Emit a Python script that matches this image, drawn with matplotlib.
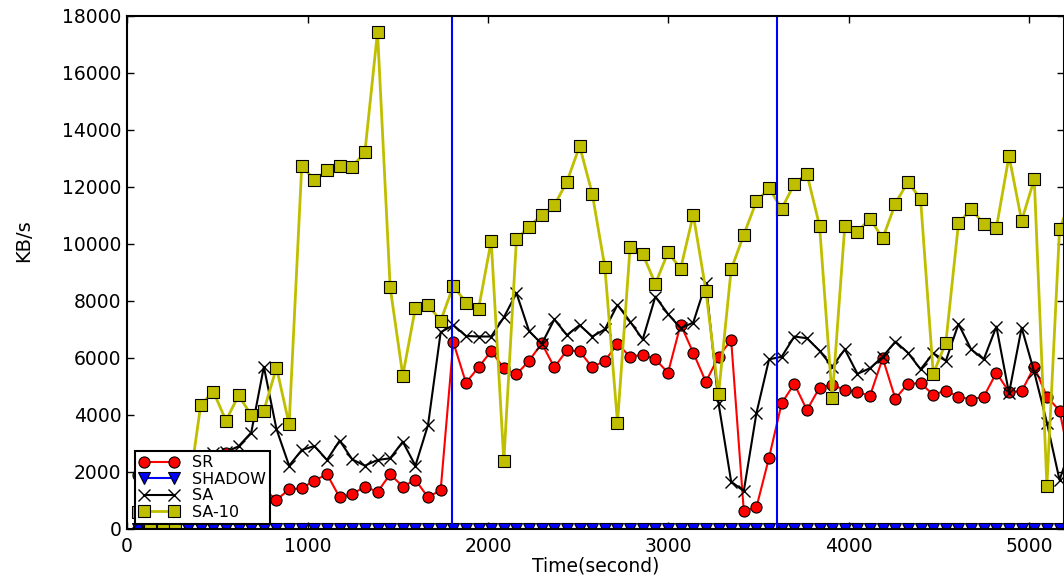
import matplotlib
matplotlib.use("Agg")
import matplotlib.pyplot as plt

# tiempos de muestreo (s)
tiempos = [58, 128, 198, 268, 338, 408, 478, 548, 618, 688, 758, 828, 898, 968, 1038,
           1108, 1178, 1248, 1318, 1388, 1458, 1528, 1598, 1668, 1738, 1808, 1878, 1948,
           2018, 2088, 2158, 2228, 2298, 2368, 2438, 2508, 2578, 2648, 2718, 2788, 2858,
           2928, 2998, 3068, 3138, 3208, 3278, 3348, 3418, 3488, 3558, 3628, 3698, 3768,
           3838, 3908, 3978, 4048, 4118, 4188, 4258, 4328, 4398, 4468, 4538, 4608, 4678,
           4748, 4818, 4888, 4958, 5028, 5098, 5168, 5238]

sr = [1900, 1800, 1500, 1600, 1700, 2000, 2300, 2650, 2400, 1900, 1400, 1020, 1390, 1430,
      1700, 1920, 1110, 1220, 1490, 1300, 1920, 1490, 1720, 1110, 1370, 6550, 5130, 5670,
      6240, 5640, 5420, 5900, 6510, 5670, 6270, 6230, 5670, 5900, 6490, 6040, 6110, 5950,
      5480, 7170, 6180, 5160, 6040, 6630, 630, 760, 2500, 4410, 5090, 4170, 4960, 5050,
      4880, 4790, 4680, 5990, 4570, 5100, 5110, 4710, 4850, 4640, 4540, 4640, 5480, 4810,
      4830, 5690, 4640, 4150, 2000]

shadow = [0, 0, 0, 0, 0, 0, 0, 0, 0, 0, 0, 0, 0, 0, 0, 0, 0, 0, 0, 0, 0, 0, 0, 0, 0,
          0, 0, 0, 0, 0, 0, 0, 0, 0, 0, 0, 0, 0, 0, 0, 0, 0, 0, 0, 0, 0, 0, 0, 0, 0,
          0, 0, 0, 0, 0, 0, 0, 0, 0, 0, 0, 0, 0, 0, 0, 0, 0, 0, 0, 0, 0, 0, 0, 0, 0]

sa = [250, 700, 1100, 1500, 1900, 2300, 2680, 2700, 2900, 3380, 5690, 3500, 2220, 2770,
      2910, 2420, 3100, 2440, 2220, 2420, 2480, 3060, 2220, 3650, 6900, 7150, 6770, 6750,
      6750, 7420, 8270, 6940, 6490, 7350, 6800, 7150, 6750, 7000, 7860, 7270, 6650, 8150,
      7540, 7040, 7240, 8620, 4410, 1660, 1330, 4060, 5950, 6040, 6750, 6690, 6250, 5690,
      6300, 5440, 5640, 6040, 6570, 6180, 5600, 6160, 5900, 7190, 6300, 5950, 7100, 4760,
      7060, 5500, 3730, 1720, 3000]

sa10 = [600, 100, 100, 100, 1200, 4350, 4820, 3800, 4690, 3990, 4150, 5660, 3670, 12740,
        12240, 12580, 12740, 12710, 13210, 17440, 8480, 5380, 7760, 7860, 7300, 8530, 7940,
        7720, 10100, 2390, 10160, 10600, 11010, 11350, 12180, 13430, 11760, 9180, 3730,
        9900, 9640, 8600, 9700, 9130, 11020, 8360, 4730, 9100, 10320, 11490, 11950, 11230,
        12100, 12450, 10630, 4580, 10640, 10430, 10880, 10190, 11410, 12180, 11560, 5440,
        6540, 10720, 11220, 10700, 10560, 13080, 10810, 12270, 1510, 10510, 11700]

cortes = [1800, 3600]

fig = plt.figure(figsize=(10.64, 5.79), dpi=100)
ax = fig.add_axes([127.1 / 1064, 50 / 579, (1063.5 - 127.1) / 1064, (529 - 15.7) / 579])

ax.plot(tiempos, sr, color='r', marker='o', markersize=8, markeredgecolor='k',
        markeredgewidth=0.8, linewidth=1.5, label='SR')
ax.plot(tiempos, shadow, color='b', marker='v', markersize=9, markeredgecolor='k',
        markeredgewidth=0.8, linewidth=1.5, label='SHADOW')
ax.plot(tiempos, sa, color='k', marker='x', markersize=9, markeredgewidth=1,
        linewidth=1.5, label='SA')
ax.plot(tiempos, sa10, color=(0.75, 0.75, 0), marker='s', markersize=8,
        markerfacecolor=(0.75, 0.75, 0), markeredgecolor='k', markeredgewidth=0.8,
        linewidth=2, label='SA-10')

for c in cortes:
    ax.axvline(c, color='b', linewidth=1.5)

ax.set_xlim(0, 5190)
ax.set_ylim(0, 18000)
ax.set_xticks([0, 1000, 2000, 3000, 4000, 5000])
ax.set_yticks(range(0, 18001, 2000))
ax.tick_params(direction='in', top=True, right=True, length=5, width=1, labelsize=13.5)
ax.tick_params(axis='x', pad=6)
ax.tick_params(axis='y', pad=4)
for s in ax.spines.values():
    s.set_linewidth(1.5)

ax.set_xlabel("Time(second)", fontsize=13.5)
ax.xaxis.set_label_coords(0.5, (529 - 556) / 513.3)
ax.set_ylabel("KB/s", fontsize=14)
ax.yaxis.set_label_coords((33 - 127.1) / 936.4, (529 - 241) / 513.3)

leg = ax.legend(loc='lower left', bbox_to_anchor=((135 - 127.1) / 936.4, (529 - 524) / 513.3),
                borderaxespad=0, numpoints=2, fontsize=11.5, fancybox=False,
                handlelength=2.5, handletextpad=0.8, labelspacing=0.1, borderpad=0.25)
leg.get_frame().set_edgecolor('k')
leg.get_frame().set_linewidth(1.5)
leg.get_frame().set_alpha(1)

plt.savefig("out.png", dpi=100)
